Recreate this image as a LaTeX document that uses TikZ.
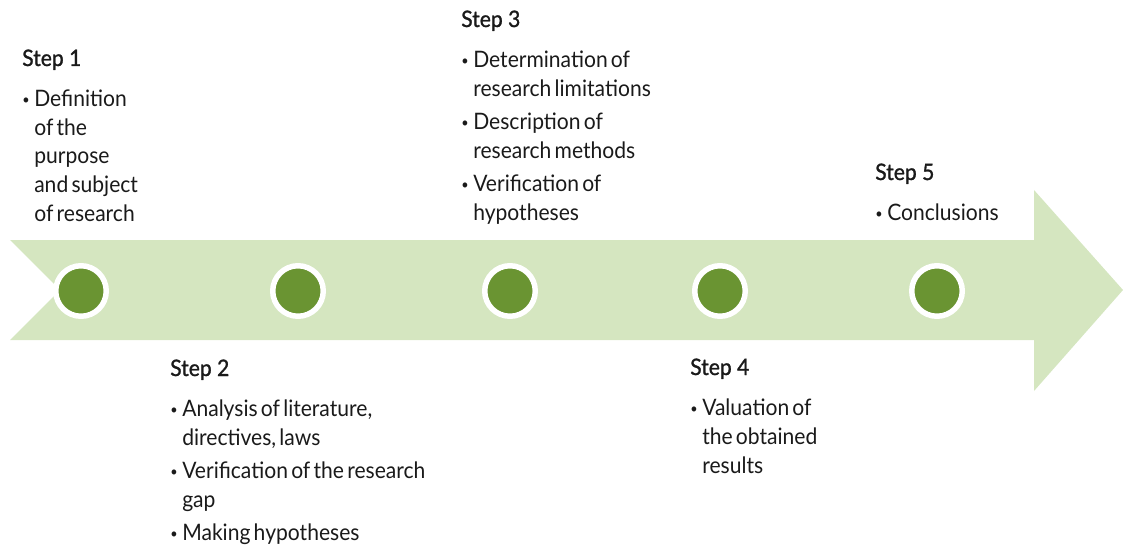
\documentclass[tikz,border=0pt]{standalone}
\usepackage{fontspec}
\setmainfont[FakeStretch=0.93, WordSpace=0.6]{Lato}
\newfontfamily\stepfont[FakeStretch=0.93, FakeBold=1.2]{Lato}

\definecolor{shaftgreen}{RGB}{213,230,192}
\definecolor{dotgreen}{RGB}{106,148,50}
\definecolor{notetext}{RGB}{26,26,26}

% bullet and hanging indent for the step notes
\newcommand{\bul}{\makebox[9pt][l]{\raisebox{1.6pt}{\scalebox{0.6}{\textbullet}}}}
\newcommand{\ind}{\hspace*{9pt}}

\begin{document}
\begin{tikzpicture}[
        x=0.75pt, y=-0.75pt,
        stepnote/.style={anchor=base west, inner sep=0pt, font=\fontsize{17}{21.4}\selectfont, text=notetext},
        stepdot/.style={circle, fill=dotgreen, draw=white, line width=4.1pt, minimum size=37.9pt, inner sep=0pt}
    ]
        \useasboundingbox (0,0) rectangle (1123,545);

        % Timeline arrow
        \fill[shaftgreen] (10,240) -- (1034,240) -- (1034,190) -- (1123,290)
            -- (1034,391) -- (1034,340) -- (10,340) -- (60,290) -- cycle;

        % Step markers
        \foreach \cx [count=\i] in {81,298,510,720,937}
            \node[stepdot] (dot\i) at (\cx,291) {};

        % Notes above the arrow
        \node[stepnote] (step1) at (22,66) {\begin{tabular}[t]{@{}l@{}}
            {\stepfont Step 1}\\[9.3pt]
            \bul Definition\\
            \ind of the\\
            \ind purpose\\
            \ind and subject\\
            \ind of research
        \end{tabular}};

        \node[stepnote] (step3) at (461,27) {\begin{tabular}[t]{@{}l@{}}
            {\stepfont Step 3}\\[9.3pt]
            \bul Determination of\\
            \ind research limitations\\[3.7pt]
            \bul Description of\\
            \ind research methods\\[3.7pt]
            \bul Verification of\\
            \ind hypotheses
        \end{tabular}};

        \node[stepnote] (step5) at (875,180) {\begin{tabular}[t]{@{}l@{}}
            {\stepfont Step 5}\\[9.3pt]
            \bul Conclusions
        \end{tabular}};

        % Notes below the arrow
        \node[stepnote] (step2) at (170,376) {\begin{tabular}[t]{@{}l@{}}
            {\stepfont Step 2}\\[9.3pt]
            \bul Analysis of literature,\\
            \ind directives, laws\\[3.7pt]
            \bul Verification of the research\\
            \ind gap\\[3.7pt]
            \bul Making hypotheses
        \end{tabular}};

        \node[stepnote] (step4) at (690,375) {\begin{tabular}[t]{@{}l@{}}
            {\stepfont Step 4}\\[9.3pt]
            \bul Valuation of\\
            \ind the obtained\\
            \ind results
        \end{tabular}};
    \end{tikzpicture}
\end{document}
